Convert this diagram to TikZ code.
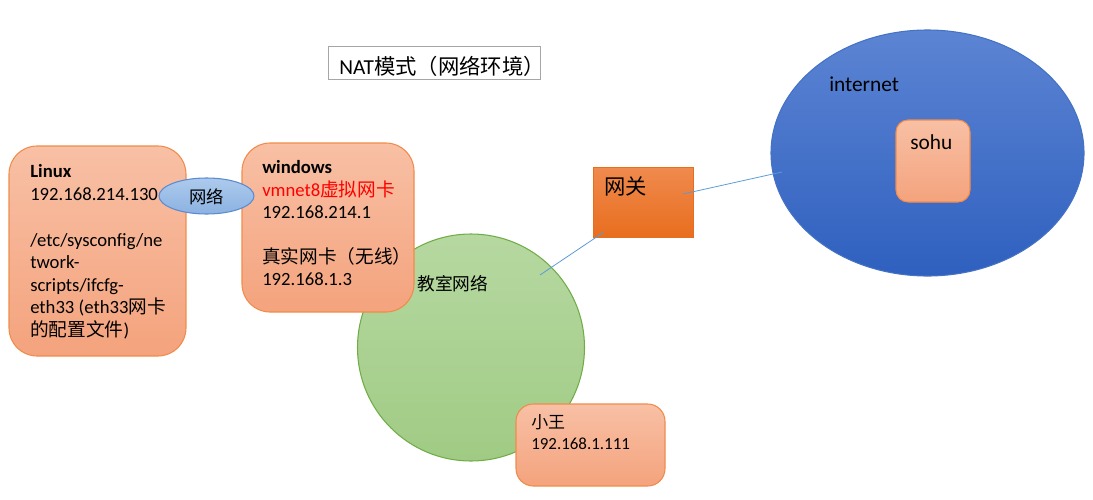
\documentclass[tikz,border=0pt]{standalone}
\usepackage{fontspec}
\setmainfont{Carlito}
\newfontfamily\cjk{Noto Sans CJK SC}
\usetikzlibrary{shapes.geometric}
\definecolor{boxtop}{RGB}{248,192,165}
\definecolor{boxbot}{RGB}{244,163,125}
\definecolor{boxedge}{RGB}{240,140,75}
\definecolor{gwtop}{RGB}{240,138,78}
\definecolor{gwbot}{RGB}{232,110,30}
\definecolor{nettop}{RGB}{92,132,211}
\definecolor{netbot}{RGB}{47,96,191}
\definecolor{netedge}{RGB}{68,114,196}
\definecolor{grtop}{RGB}{182,216,161}
\definecolor{grbot}{RGB}{160,203,132}
\definecolor{gredge}{RGB}{112,173,71}
\definecolor{eltop}{RGB}{172,202,236}
\definecolor{elbot}{RGB}{140,178,226}
\definecolor{eledge}{RGB}{91,139,208}
\definecolor{linkc}{RGB}{91,155,213}
\definecolor{redtxt}{RGB}{255,0,0}
\definecolor{titleedge}{RGB}{166,166,166}
\tikzset{
  hostbox/.style={draw=boxedge, line width=0.8pt, top color=boxtop, bottom color=boxbot, rounded corners=21pt, inner sep=0pt},
  txt/.style={anchor=base west, inner sep=0pt, font=\fontsize{14pt}{16pt}\selectfont},
  link/.style={draw=linkc, line width=0.6pt},
}
\begin{document}
\begin{tikzpicture}[x=0.75pt,y=-0.75pt]
\useasboundingbox (0,0) rectangle (1093,500);
% title
\node[draw=titleedge, line width=0.6pt, fill=white, minimum width=212*0.75pt, minimum height=33*0.75pt, inner sep=0pt] (title) at (434,62.5) {};
\node[txt, font=\fontsize{16pt}{19pt}\selectfont] (titletext) at (339,74) {NAT{\cjk 模式（网络环境）}};
% classroom network
\node[circle, draw=gredge, line width=0.8pt, top color=grtop, bottom color=grbot, minimum size=227*0.75pt, inner sep=0pt] (room) at (471,347.5) {};
\node[txt, font=\fontsize{13.3pt}{16pt}\selectfont] (roomtext) at (417,290) {\cjk 教室网络};
% linux
\node[hostbox, minimum width=177*0.75pt, minimum height=210*0.75pt] (linux) at (97.5,251) {};
\node[txt] (l1) at (30,177) {\bfseries Linux};
\node[txt] (l2) at (30,200) {192.168.214.130};
\node[txt] (l3) at (30,246) {/etc/sysconfig/ne};
\node[txt] (l4) at (30,268.5) {twork-};
\node[txt] (l5) at (30,291) {scripts/ifcfg-};
\node[txt] (l6) at (30,313.5) {eth33 (eth33{\cjk 网卡}};
\node[txt] (l7) at (30,336) {{\cjk 的配置文件})};
% windows
\node[hostbox, minimum width=172*0.75pt, minimum height=169*0.75pt] (win) at (328,227.5) {};
\node[txt] (w1) at (262,173.5) {\bfseries windows};
\node[txt, text=redtxt] (w2) at (262,196) {vmnet8{\cjk 虚拟网卡}};
\node[txt] (w3) at (262,218.5) {192.168.214.1};
\node[txt] (w4) at (262,263) {\cjk 真实网卡（无线）};
\node[txt] (w5) at (262,285.5) {192.168.1.3};
% small network ellipse
\node[ellipse, draw=eledge, line width=0.8pt, top color=eltop, bottom color=elbot, minimum width=95*0.75pt, minimum height=36*0.75pt, inner sep=0pt] (vnet) at (206.5,196) {};
\node[txt, font=\fontsize{13pt}{16pt}\selectfont] (vnettext) at (189,203) {\cjk 网络};
% xiaowang
\node[hostbox, rounded corners=13pt, minimum width=149*0.75pt, minimum height=82*0.75pt] (xw) at (590.5,445) {};
\node[txt, font=\fontsize{12.7pt}{15pt}\selectfont] (xw1) at (531,428) {\cjk 小王};
\node[txt, font=\fontsize{12.7pt}{15pt}\selectfont] (xw2) at (531,449) {192.168.1.111};
% gateway
\node[draw=gwbot, line width=0.6pt, top color=gwtop, bottom color=gwbot, minimum width=100*0.75pt, minimum height=70*0.75pt, inner sep=0pt] (gw) at (643,202) {};
\node[txt, font=\fontsize{16pt}{19pt}\selectfont] (gwtext) at (604,194) {\cjk 网关};
% internet
\node[ellipse, draw=netedge, line width=0.8pt, top color=nettop, bottom color=netbot, minimum width=313*0.75pt, minimum height=246*0.75pt, inner sep=0pt] (inet) at (927.5,153) {};
\node[txt, font=\fontsize{16pt}{19pt}\selectfont] (inettext) at (829,91) {internet};
\node[hostbox, rounded corners=9pt, minimum width=74*0.75pt, minimum height=82*0.75pt] (sohu) at (933,161) {};
\node[txt, font=\fontsize{16pt}{19pt}\selectfont] (sohutext) at (910,149) {sohu};
% connectors
\coordinate (roomend) at (540,275);
\coordinate (gwin) at (604,232);
\coordinate (gwout) at (683,194);
\coordinate (inetin) at (782,172);
\draw[link] (roomend) -- (gwin);
\draw[link] (gwout) -- (inetin);
\end{tikzpicture}
\end{document}
